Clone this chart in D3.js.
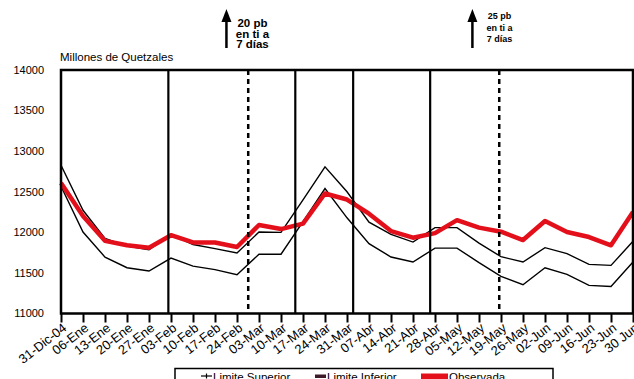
<!DOCTYPE html>
<html>
<head>
<meta charset="utf-8">
<script src="https://cdn.jsdelivr.net/npm/d3@7"></script>
<style>
  html, body { margin: 0; padding: 0; background: #fff; }
  svg { display: block; font-family: "Liberation Sans", Arial, sans-serif; }
</style>
</head>
<body>
<svg id="chart" width="634" height="379"></svg>
<script>
// ---- data ----
const categories = ["31-Dic-04","06-Ene","13-Ene","20-Ene","27-Ene","03-Feb","10-Feb","17-Feb","24-Feb","03-Mar","10-Mar","17-Mar","24-Mar","31-Mar","07-Abr","14-Abr","21-Abr","28-Abr","05-May","12-May","19-May","26-May","02-Jun","09-Jun","16-Jun","23-Jun","30 Jun"];
const limiteSuperior = [12827,12272,11925,11830,11786,11975,11850,11800,11745,12004,12000,12400,12807,12500,12125,11975,11880,12058,12058,11868,11700,11634,11811,11737,11605,11593,11889];
const limiteInferior = [12568,12004,11695,11564,11523,11683,11584,11540,11478,11730,11730,12132,12539,12179,11860,11696,11634,11806,11806,11626,11457,11354,11564,11482,11346,11333,11634];
const observada = [12609,12200,11895,11840,11811,11965,11875,11875,11819,12090,12040,12107,12478,12404,12230,12016,11934,11990,12150,12058,12008,11905,12140,12004,11942,11840,12250];
const yTicks = [11000,11500,12000,12500,13000,13500,14000];
// policy events (position in weeks from first category); dashed = rate hike
const eventPos = [4.88, 8.51, 10.65, 13.28, 16.78, 19.92];
const eventDashed = [false, true, false, false, false, true];
const annotPos = [7.52, 18.7];
const annotText = [["20 pb","en ti a","7 días"],["25 pb","en ti a","7 días"]];
const legendLabels = ["Limite Superior","Limite Inferior","Observada"];
const yTitle = "Millones de Quetzales";

// ---- layout ----
const svg = d3.select("#chart");
const L = 61, R = 633, T = 70, B = 313.5;
const x = d3.scaleLinear().domain([0, categories.length - 1]).range([L, R]);
const y = d3.scaleLinear().domain([11000, 14000]).range([B, T]);

// y labels
svg.append("g").selectAll("text").data(yTicks).join("text")
  .attr("x", 44).attr("y", d => y(d)).attr("dy", "0.35em")
  .attr("text-anchor", "end").attr("font-size", 11).attr("fill", "#000")
  .text(d => d);

svg.append("text").attr("x", 60).attr("y", 61).attr("font-size", 11.5)
  .text(yTitle);

// x ticks
const xAxis = d3.axisBottom(x).tickValues(d3.range(categories.length))
  .tickSize(9).tickFormat(i => categories[i]);
const gx = svg.append("g").attr("transform", `translate(0,${B})`).call(xAxis);
gx.select(".domain").remove();
gx.selectAll(".tick line").attr("stroke", "#000").attr("stroke-width", 2);
gx.selectAll(".tick text")
  .attr("font-size", 13).attr("fill", "#000")
  .attr("font-family", "\"Liberation Sans\", Arial, sans-serif")
  .attr("text-anchor", "end")
  .attr("y", 0).attr("dy", 0)
  .attr("transform", "translate(6,16) rotate(-38)");

// lines
const line = d3.line().x((d, i) => x(i)).y(d => y(d));
svg.append("path").datum(limiteInferior).attr("d", line)
  .attr("fill", "none").attr("stroke", "#000").attr("stroke-width", 1.4);
svg.append("path").datum(limiteSuperior).attr("d", line)
  .attr("fill", "none").attr("stroke", "#000").attr("stroke-width", 1.4);
svg.append("path").datum(observada).attr("d", line)
  .attr("fill", "none").attr("stroke", "#e3101b").attr("stroke-width", 4.5)
  .attr("stroke-linejoin", "round");

// event lines
svg.append("g").selectAll("line").data(eventPos).join("line")
  .attr("x1", d => x(d)).attr("x2", d => x(d))
  .attr("y1", T).attr("y2", B)
  .attr("stroke", "#000")
  .attr("stroke-width", (d, i) => eventDashed[i] ? 2.5 : 2.2)
  .attr("stroke-dasharray", (d, i) => eventDashed[i] ? "5,4" : null);

// frame
svg.append("rect").attr("x", L).attr("y", T).attr("width", R - L).attr("height", B - T)
  .attr("fill", "none").attr("stroke", "#000").attr("stroke-width", 2.5);

// annotations
annotPos.forEach((p, k) => {
  const ax = x(p);
  const g = svg.append("g");
  g.append("line").attr("x1", ax).attr("x2", ax).attr("y1", 20).attr("y2", 48)
    .attr("stroke", "#000").attr("stroke-width", 2.5);
  g.append("path").attr("d", `M${ax},9 L${ax - 5},22 L${ax + 5},22 Z`).attr("fill", "#000");
  const fs = k === 0 ? 11.5 : 9;
  const tx = k === 0 ? ax + 26 : ax + 27;
  const y0 = k === 0 ? 27 : 19;
  const lh = k === 0 ? 10.7 : 11.5;
  annotText[k].forEach((t, j) => {
    g.append("text").attr("x", tx).attr("y", y0 + j * lh)
      .attr("text-anchor", "middle").attr("font-weight", "bold")
      .attr("font-size", fs).text(t);
  });
});

// legend
const lg = svg.append("g");
lg.append("rect").attr("x", 175).attr("y", 368.5).attr("width", 378).attr("height", 30)
  .attr("fill", "#fff").attr("stroke", "#000").attr("stroke-width", 1.5);
// superior marker
lg.append("line").attr("x1", 201).attr("x2", 212).attr("y1", 376).attr("y2", 376)
  .attr("stroke", "#000").attr("stroke-width", 1.2);
lg.append("line").attr("x1", 206.5).attr("x2", 206.5).attr("y1", 373.5).attr("y2", 378.5)
  .attr("stroke", "#000").attr("stroke-width", 1.2);
// inferior marker
lg.append("rect").attr("x", 315).attr("y", 374.5).attr("width", 11).attr("height", 3.5)
  .attr("fill", "#3c1a2a");
// observada marker
lg.append("rect").attr("x", 421).attr("y", 373.5).attr("width", 27).attr("height", 5.5)
  .attr("fill", "#e3101b");
const lx = [213, 327, 449];
lg.selectAll("text.lbl").data(legendLabels).join("text")
  .attr("class", "lbl")
  .attr("x", (d, i) => lx[i]).attr("y", 380.5).attr("font-size", 11.5)
  .text(d => d);
</script>
</body>
</html>
